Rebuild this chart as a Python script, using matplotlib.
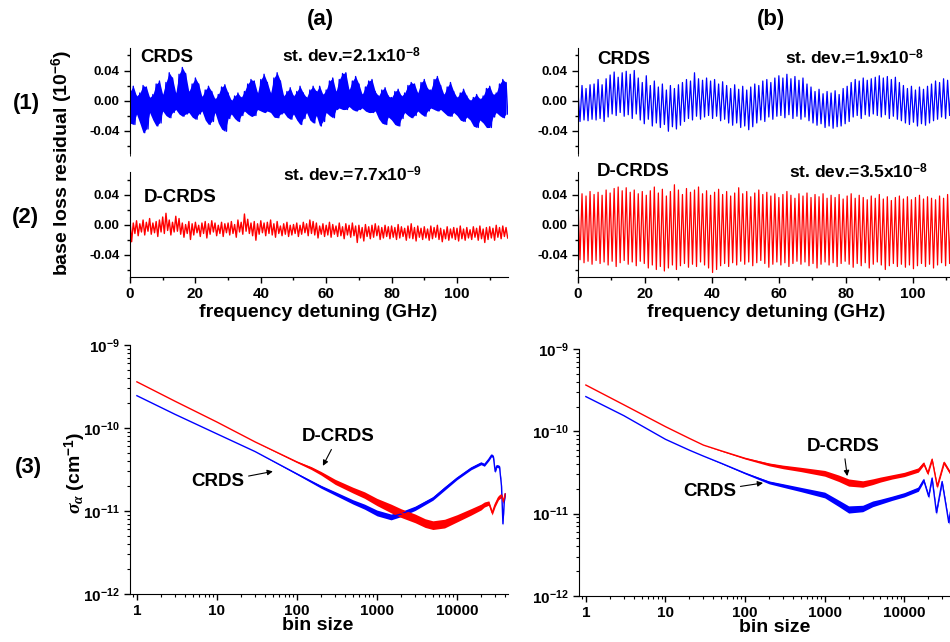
import numpy as np
import matplotlib
matplotlib.use("Agg")
import matplotlib.pyplot as plt
from matplotlib.ticker import MultipleLocator, LogLocator, FuncFormatter, NullFormatter

plt.rcParams["font.family"] = "Liberation Sans"
plt.rcParams["font.weight"] = "bold"
plt.rcParams["mathtext.fontset"] = "custom"
plt.rcParams["mathtext.rm"] = "Liberation Sans:bold"
plt.rcParams["mathtext.bf"] = "Liberation Sans:bold"
plt.rcParams["mathtext.it"] = "Liberation Serif:italic"

BLUE = "#0000ff"
RED = "#ff0000"

# ---- residual traces (10^-6) ----
# (a) CRDS: upper / lower excursions every 1 GHz
a1_hi = [0.012, 0.019, 0.006, 0.010, 0.020, 0.018, 0.004, 0.008, 0.022, 0.026,
         0.008, 0.024, 0.037, 0.030, 0.010, 0.035, 0.044, 0.036, 0.012, 0.022,
         0.030, 0.022, 0.005, 0.014, 0.019, 0.012, 0.002, 0.008, 0.018, 0.021,
         0.010, 0.000, 0.006, 0.010, 0.004, 0.012, 0.022, 0.028, 0.026, 0.010,
         0.028, 0.035, 0.024, 0.010, 0.030, 0.037, 0.026, 0.006, 0.012, 0.017,
         0.006, 0.012, 0.019, 0.010, 0.004, 0.014, 0.019, 0.012, 0.019, 0.008,
         0.014, 0.026, 0.030, 0.012, 0.028, 0.036, 0.037, 0.014, 0.026, 0.032,
         0.022, 0.008, 0.018, 0.026, 0.028, 0.012, 0.006, 0.014, 0.017, 0.006,
         0.004, 0.012, 0.015, 0.006, 0.010, 0.020, 0.024, 0.022, 0.010, 0.024,
         0.028, 0.016, 0.014, 0.028, 0.032, 0.020, 0.008, 0.018, 0.024, 0.012,
         0.004, 0.010, 0.015, 0.006, 0.000, 0.004, 0.008, 0.002, 0.006, 0.016,
         0.019, 0.008, 0.010, 0.022, 0.028, 0.024]
a1_lo = [-0.030, -0.032, -0.018, -0.030, -0.043, -0.038, -0.016, -0.026, -0.034, -0.030,
         -0.014, -0.020, -0.023, -0.016, -0.012, -0.018, -0.021, -0.018, -0.016, -0.022,
         -0.025, -0.018, -0.014, -0.026, -0.032, -0.028, -0.016, -0.030, -0.038, -0.041,
         -0.024, -0.018, -0.024, -0.028, -0.020, -0.014, -0.018, -0.021, -0.020, -0.012,
         -0.014, -0.016, -0.014, -0.016, -0.022, -0.023, -0.018, -0.016, -0.022, -0.025,
         -0.018, -0.026, -0.032, -0.024, -0.016, -0.026, -0.030, -0.020, -0.034, -0.028,
         -0.016, -0.020, -0.023, -0.012, -0.010, -0.012, -0.012, -0.008, -0.012, -0.014,
         -0.012, -0.010, -0.014, -0.016, -0.016, -0.014, -0.024, -0.030, -0.032, -0.022,
         -0.026, -0.032, -0.034, -0.024, -0.016, -0.020, -0.023, -0.020, -0.014, -0.018,
         -0.021, -0.014, -0.010, -0.012, -0.014, -0.012, -0.016, -0.020, -0.021, -0.016,
         -0.020, -0.026, -0.028, -0.022, -0.026, -0.034, -0.036, -0.026, -0.030, -0.036,
         -0.036, -0.022, -0.016, -0.020, -0.023, -0.018]

# (a) D-CRDS: upper / lower excursions every 1 GHz
a2_hi = [0.004, 0.002, 0.005, 0.001, 0.006, 0.003, 0.008, 0.002, 0.004, 0.006,
         0.010, 0.015, 0.006, 0.003, 0.011, 0.008, 0.002, 0.000, 0.004, 0.001,
         0.003, -0.001, 0.002, 0.004, 0.001, 0.005, 0.002, -0.001, 0.003, 0.001,
         0.002, 0.004, 0.000, 0.006, 0.003, 0.014, 0.007, 0.002, 0.004, 0.001,
         0.005, 0.002, 0.003, 0.006, 0.001, 0.004, -0.002, 0.001, 0.003, -0.001,
         0.000, 0.002, -0.001, 0.003, 0.001, 0.006, 0.004, 0.002, -0.002, 0.001,
         -0.001, 0.003, 0.000, -0.002, 0.002, -0.003, 0.001, -0.001, 0.002, -0.002,
         -0.001, -0.004, 0.000, -0.003, -0.001, 0.001, -0.002, -0.004, -0.001, -0.003,
         -0.002, -0.004, 0.000, -0.003, -0.005, -0.002, 0.001, -0.004, -0.002, -0.005,
         -0.003, -0.006, -0.002, -0.004, -0.001, -0.005, -0.007, -0.003, -0.006, -0.004,
         -0.005, -0.002, -0.006, -0.004, -0.007, -0.003, -0.005, -0.002, -0.006, -0.004,
         -0.003, -0.005, -0.001, -0.004, -0.002, -0.004]
a2_lo = [-0.023, -0.012, -0.015, -0.010, -0.014, -0.009, -0.013, -0.011, -0.016, -0.010,
         -0.012, -0.008, -0.014, -0.010, -0.009, -0.013, -0.017, -0.012, -0.020, -0.014,
         -0.011, -0.016, -0.012, -0.018, -0.013, -0.010, -0.015, -0.012, -0.016, -0.011,
         -0.014, -0.012, -0.017, -0.010, -0.013, -0.009, -0.012, -0.015, -0.021, -0.013,
         -0.011, -0.015, -0.012, -0.014, -0.017, -0.012, -0.015, -0.013, -0.016, -0.014,
         -0.012, -0.016, -0.013, -0.011, -0.015, -0.012, -0.014, -0.018, -0.013, -0.016,
         -0.014, -0.017, -0.013, -0.016, -0.015, -0.019, -0.014, -0.017, -0.015, -0.024,
         -0.018, -0.022, -0.016, -0.019, -0.017, -0.015, -0.020, -0.018, -0.016, -0.019,
         -0.017, -0.020, -0.018, -0.016, -0.021, -0.018, -0.019, -0.022, -0.017, -0.020,
         -0.018, -0.021, -0.019, -0.017, -0.020, -0.023, -0.019, -0.021, -0.018, -0.020,
         -0.022, -0.019, -0.021, -0.018, -0.020, -0.017, -0.021, -0.019, -0.024, -0.020,
         -0.018, -0.021, -0.017, -0.019, -0.016, -0.018]

# (b) CRDS: peaks / troughs of the ~1.2 GHz fringe
b1_hi = [0.012, 0.020, 0.016, 0.021, 0.022, 0.028, 0.021, 0.029,
         0.034, 0.038, 0.031, 0.037, 0.039, 0.035, 0.040,
         0.030, 0.024, 0.033, 0.020, 0.026,
         0.018, 0.022, 0.014, 0.020, 0.016, 0.021,
         0.024, 0.028, 0.026, 0.037, 0.029, 0.027,
         0.030, 0.026, 0.028, 0.022, 0.025, 0.020,
         0.016, 0.021, 0.015, 0.019, 0.014, 0.018,
         0.022, 0.020, 0.026, 0.028, 0.024, 0.030,
         0.033, 0.030, 0.035, 0.029, 0.032, 0.027, 0.030,
         0.022, 0.018, 0.012, 0.015, 0.009, 0.012,
         0.010, 0.013, 0.008, 0.016, 0.019,
         0.024, 0.028, 0.026, 0.030, 0.027, 0.029,
         0.031, 0.033, 0.030, 0.032, 0.028, 0.031,
         0.024, 0.020, 0.016, 0.019, 0.014, 0.018, 0.015,
         0.019, 0.022, 0.026, 0.024, 0.029, 0.027, 0.030, 0.028, 0.031]
b1_lo = [-0.028, -0.026, -0.027, -0.025, -0.026, -0.024, -0.028, -0.022,
         -0.018, -0.020, -0.016, -0.021, -0.019, -0.024, -0.018,
         -0.026, -0.031, -0.025, -0.034, -0.030,
         -0.036, -0.032, -0.041, -0.035, -0.038, -0.033,
         -0.028, -0.024, -0.026, -0.021, -0.025, -0.022,
         -0.020, -0.024, -0.021, -0.027, -0.025, -0.030,
         -0.033, -0.030, -0.036, -0.034, -0.039, -0.035,
         -0.030, -0.026, -0.028, -0.022, -0.025, -0.021,
         -0.020, -0.023, -0.019, -0.024, -0.021, -0.025, -0.022,
         -0.027, -0.030, -0.033, -0.031, -0.036, -0.034,
         -0.037, -0.035, -0.034, -0.031, -0.028,
         -0.022, -0.020, -0.024, -0.019, -0.021, -0.018,
         -0.020, -0.022, -0.019, -0.024, -0.021, -0.025,
         -0.027, -0.030, -0.032, -0.029, -0.034, -0.031, -0.033,
         -0.030, -0.027, -0.025, -0.022, -0.024, -0.020, -0.022, -0.019, -0.021]

# (b) D-CRDS: peaks / troughs of the ~1.2 GHz fringe
b2_hi = [0.030, 0.041, 0.038, 0.044, 0.040, 0.043, 0.039, 0.046, 0.042, 0.048,
         0.050, 0.045, 0.049, 0.043, 0.046, 0.041, 0.044, 0.039, 0.045, 0.050,
         0.042, 0.047, 0.038, 0.044, 0.053, 0.046, 0.040, 0.048, 0.043, 0.046,
         0.050, 0.041, 0.045, 0.039, 0.043, 0.047, 0.040, 0.044, 0.038, 0.042,
         0.049, 0.041, 0.044, 0.037, 0.042, 0.046, 0.040, 0.043, 0.038, 0.041,
         0.036, 0.040, 0.044, 0.039, 0.035, 0.041, 0.038, 0.042, 0.036, 0.040,
         0.037, 0.041, 0.035, 0.039, 0.036, 0.040, 0.034, 0.038, 0.041, 0.035,
         0.039, 0.036, 0.033, 0.038, 0.035, 0.040, 0.034, 0.037, 0.032, 0.036,
         0.038, 0.034, 0.037, 0.033, 0.036, 0.039, 0.034, 0.037, 0.035, 0.033,
         0.038, 0.035, 0.040, 0.036, 0.039, 0.037]
b2_lo = [-0.047, -0.051, -0.049, -0.053, -0.048, -0.052, -0.050, -0.054, -0.049, -0.056,
         -0.051, -0.048, -0.053, -0.050, -0.055, -0.049, -0.052, -0.058, -0.054, -0.060,
         -0.056, -0.062, -0.058, -0.054, -0.060, -0.055, -0.052, -0.057, -0.053, -0.056,
         -0.050, -0.054, -0.058, -0.064, -0.060, -0.055, -0.052, -0.056, -0.051, -0.054,
         -0.049, -0.053, -0.050, -0.055, -0.051, -0.048, -0.052, -0.057, -0.053, -0.050,
         -0.054, -0.051, -0.056, -0.052, -0.049, -0.053, -0.050, -0.055, -0.052, -0.058,
         -0.053, -0.050, -0.054, -0.051, -0.056, -0.052, -0.049, -0.053, -0.057, -0.052,
         -0.055, -0.051, -0.058, -0.053, -0.050, -0.054, -0.060, -0.055, -0.052, -0.056,
         -0.053, -0.057, -0.054, -0.059, -0.055, -0.052, -0.056, -0.053, -0.058, -0.054,
         -0.051, -0.055, -0.052, -0.056, -0.053, -0.050]

# ---- Allan deviation (cm^-1) vs bin size; band = relative noise half-width ----
a3_red_bins = [1, 3, 10, 30, 100, 150, 200, 300, 500, 700,
               1000, 1500, 2000, 3000, 4000, 5000, 7000, 10000, 15000, 20000,
               22000, 25000, 27500, 30000, 33000, 36000, 38000, 40000]
a3_red = [3.6e-10, 2.1e-10, 1.18e-10, 6.8e-11, 3.9e-11, 3.3e-11, 2.85e-11, 2.25e-11, 1.79e-11, 1.56e-11,
          1.29e-11, 1.08e-11, 9.5e-12, 8.2e-12, 7.2e-12, 6.8e-12, 7.1e-12, 8.2e-12, 9.8e-12, 1.12e-11,
          1.2e-11, 1.25e-11, 9.5e-12, 1.2e-11, 1.45e-11, 1.55e-11, 1.3e-11, 1.6e-11]
a3_red_band = [0, 0, 0, 0, 0.02, 0.04, 0.05, 0.07, 0.08, 0.09,
               0.10, 0.12, 0.12, 0.12, 0.12, 0.12, 0.12, 0.10, 0.09, 0.08,
               0.07, 0.06, 0.06, 0.06, 0.06, 0.06, 0.06, 0.06]

a3_blue_bins = [1, 3, 10, 30, 100, 200, 300, 500, 700, 1000,
                1500, 2000, 3000, 5000, 7000, 10000, 15000, 20000, 22000, 25000,
                27000, 28500, 30000, 31500, 34000, 36000, 37500, 39000, 40000]
a3_blue = [2.45e-10, 1.46e-10, 8.5e-11, 5.2e-11, 2.8e-11, 1.96e-11, 1.63e-11, 1.29e-11, 1.13e-11, 9.5e-12,
           8.5e-12, 9.2e-12, 1.08e-11, 1.42e-11, 1.87e-11, 2.48e-11, 3.27e-11, 3.76e-11, 3.6e-11, 4.2e-11,
           4.7e-11, 4.5e-11, 3.0e-11, 3.5e-11, 3.4e-11, 2.0e-11, 7e-12, 1.3e-11, 1.6e-11]
a3_blue_band = [0, 0, 0, 0, 0.02, 0.04, 0.05, 0.06, 0.07, 0.08,
                0.08, 0.07, 0.06, 0.05, 0.05, 0.04, 0.04, 0.04, 0.04, 0.04,
                0.04, 0.04, 0.04, 0.04, 0.04, 0.04, 0.04, 0.04, 0.04]

b3_red_bins = [1, 3, 10, 20, 30, 50, 100, 200, 300, 500,
               1000, 1500, 2000, 3000, 4000, 5000, 7000, 10000, 15000, 17500,
               19700, 22300, 25900, 31500, 37900, 40000]
b3_red = [3.65e-10, 2.1e-10, 1.14e-10, 8.2e-11, 6.8e-11, 5.8e-11, 4.7e-11, 3.97e-11, 3.7e-11, 3.45e-11,
          3.1e-11, 2.7e-11, 2.4e-11, 2.3e-11, 2.45e-11, 2.6e-11, 2.8e-11, 3.0e-11, 3.4e-11, 4.07e-11,
          3.1e-11, 4.57e-11, 2.14e-11, 4.17e-11, 3.1e-11, 3.2e-11]
b3_red_band = [0, 0, 0, 0, 0, 0.01, 0.02, 0.04, 0.05, 0.06,
               0.08, 0.09, 0.10, 0.09, 0.08, 0.07, 0.06, 0.06, 0.06, 0.05,
               0.05, 0.05, 0.05, 0.05, 0.05, 0.05]

b3_blue_bins = [1, 3, 10, 20, 30, 50, 100, 200, 300, 500,
                1000, 1500, 2000, 3000, 4000, 5000, 7000, 10000, 15000, 17500,
                20200, 22300, 25300, 29800, 34400, 36100, 37900, 40000]
b3_blue = [2.64e-10, 1.55e-10, 8.0e-11, 5.9e-11, 5.0e-11, 4.1e-11, 3.1e-11, 2.4e-11, 2.2e-11, 1.97e-11,
           1.69e-11, 1.34e-11, 1.13e-11, 1.16e-11, 1.32e-11, 1.4e-11, 1.54e-11, 1.7e-11, 1.99e-11, 2.56e-11,
           1.62e-11, 2.7e-11, 1.03e-11, 2.45e-11, 1.05e-11, 7.8e-12, 1.05e-11, 1.1e-11]
b3_blue_band = [0, 0, 0, 0, 0, 0.01, 0.02, 0.04, 0.05, 0.06,
                0.08, 0.09, 0.10, 0.09, 0.08, 0.07, 0.06, 0.06, 0.06, 0.05,
                0.05, 0.05, 0.05, 0.05, 0.05, 0.05, 0.05, 0.05]

W, H = 950, 642
fig = plt.figure(figsize=(W / 100, H / 100), dpi=100)


def px_axes(x0, y0, x1, y1):
    return fig.add_axes([x0 / W, 1 - y1 / H, (x1 - x0) / W, (y1 - y0) / H])


def ftext(x, y, s, **kw):
    fig.text(x / W, 1 - y / H, s, fontweight="bold", **kw)


def zigzag(hi, lo, step):
    hi, lo = np.asarray(hi), np.asarray(lo)
    x = np.empty(hi.size * 2)
    y = np.empty(hi.size * 2)
    x[0::2] = np.arange(hi.size) * step
    x[1::2] = np.arange(hi.size) * step + step / 2
    y[0::2] = hi
    y[1::2] = lo
    return x, y


def style_residual(ax, show_x):
    ax.set_xlim(0, 115.6)
    ax.set_ylim(-0.07, 0.07)
    ax.set_yticks([-0.04, 0.0, 0.04], ["-0.04", "0.00", "0.04"])
    ax.yaxis.set_minor_locator(MultipleLocator(0.02))
    for s in ("top", "right"):
        ax.spines[s].set_visible(False)
    ax.tick_params(axis="y", which="major", direction="out", length=4, width=1, labelsize=9.5)
    ax.tick_params(axis="y", which="minor", direction="out", length=2.5, width=1)
    if show_x:
        ax.set_xticks([0, 20, 40, 60, 80, 100])
        ax.xaxis.set_minor_locator(MultipleLocator(10))
        ax.tick_params(axis="x", which="major", direction="out", length=4, width=1, labelsize=11)
        ax.tick_params(axis="x", which="minor", direction="out", length=2.5, width=1)
    else:
        ax.spines["bottom"].set_visible(False)
        ax.set_xticks([])
        ax.xaxis.set_minor_locator(MultipleLocator(1000))


def style_allan(ax, xmax):
    ax.set_xscale("log")
    ax.set_yscale("log")
    ax.set_xlim(0.82, xmax)
    ax.set_ylim(1e-12, 1e-9)
    for s in ("top", "right"):
        ax.spines[s].set_visible(False)
    ax.xaxis.set_major_locator(LogLocator(base=10, numticks=10))
    ax.xaxis.set_minor_locator(LogLocator(base=10, subs=range(2, 10), numticks=20))
    ax.xaxis.set_major_formatter(FuncFormatter(lambda v, p: f"{v:g}"))
    ax.xaxis.set_minor_formatter(NullFormatter())
    ax.yaxis.set_major_locator(LogLocator(base=10, numticks=10))
    ax.yaxis.set_minor_locator(LogLocator(base=10, subs=range(2, 10), numticks=20))
    ax.yaxis.set_major_formatter(FuncFormatter(lambda v, p: r"$\mathbf{10^{%d}}$" % round(np.log10(v))))
    ax.yaxis.set_minor_formatter(NullFormatter())
    ax.tick_params(which="major", direction="out", length=4, width=1, labelsize=11)
    ax.tick_params(which="minor", direction="out", length=2.5, width=0.8)


def allan(ax, bins, vals, band, color):
    bins, vals, band = np.asarray(bins, float), np.asarray(vals), np.asarray(band)
    ax.fill_between(bins, vals * (1 - band), vals * (1 + band), color=color, lw=0)
    ax.plot(bins, vals, color=color, lw=1.0)


# row 1 / row 2 residuals
ax_a1 = px_axes(130, 48, 508, 153)
ax_a2 = px_axes(130, 172, 508, 277)
ax_b1 = px_axes(578, 48, 965, 153)
ax_b2 = px_axes(578, 172, 965, 277)

# the (a) CRDS trace is so dense it reads as a solid band
ax_a1.fill_between(np.arange(len(a1_hi)), a1_lo, a1_hi, color=BLUE, lw=0)
ax_a1.plot(*zigzag(a1_hi, a1_lo, 1.0), color=BLUE, lw=1.0)
ax_a2.plot(*zigzag(a2_hi, a2_lo, 1.0), color=RED, lw=1.0)
ax_b1.plot(*zigzag(b1_hi, b1_lo, 1.2), color=BLUE, lw=0.9)
ax_b2.plot(*zigzag(b2_hi, b2_lo, 1.2), color=RED, lw=0.9)

style_residual(ax_a1, False)
style_residual(ax_b1, False)
style_residual(ax_a2, True)
style_residual(ax_b2, True)

# row 3 Allan deviation
ax_a3 = px_axes(130, 345, 508, 594)
ax_b3 = px_axes(579, 349, 962, 596)
allan(ax_a3, a3_blue_bins, a3_blue, a3_blue_band, BLUE)
allan(ax_a3, a3_red_bins, a3_red, a3_red_band, RED)
allan(ax_b3, b3_blue_bins, b3_blue, b3_blue_band, BLUE)
allan(ax_b3, b3_red_bins, b3_red, b3_red_band, RED)
style_allan(ax_a3, 43400)
style_allan(ax_b3, 53000)

arrow = dict(arrowstyle="-|>", color="k", lw=0.8, mutation_scale=8, shrinkA=1, shrinkB=0)
ax_a3.annotate("D-CRDS", xy=(211, 3.5e-11), xytext=(325, 7.8e-11), ha="center", va="center",
               fontsize=13.5, fontweight="bold", arrowprops=arrow)
ax_a3.annotate("CRDS", xy=(50, 3.0e-11), xytext=(10.3, 2.24e-11), ha="center", va="center",
               fontsize=13.5, fontweight="bold", arrowprops=arrow)
ax_b3.annotate("D-CRDS", xy=(1920, 2.86e-11), xytext=(1710, 6.6e-11), ha="center", va="center",
               fontsize=13.5, fontweight="bold", arrowprops=arrow)
ax_b3.annotate("CRDS", xy=(168, 2.36e-11), xytext=(36, 1.88e-11), ha="center", va="center",
               fontsize=13.5, fontweight="bold", arrowprops=arrow)

# labels and captions
ftext(320, 19, "(a)", fontsize=16, ha="center", va="center")
ftext(771, 19, "(b)", fontsize=16, ha="center", va="center")
ftext(26, 103, "(1)", fontsize=16, ha="center", va="center")
ftext(25, 217, "(2)", fontsize=16, ha="center", va="center")
ftext(28, 467, "(3)", fontsize=16, ha="center", va="center")

ftext(140, 58, "CRDS", fontsize=13.5, ha="left", va="center")
ftext(282, 56, r"st. dev.=2.1x10$^{\mathbf{-8}}$", fontsize=12.5, ha="left", va="center")
ftext(597, 60, "CRDS", fontsize=13.5, ha="left", va="center")
ftext(785, 58, r"st. dev.=1.9x10$^{\mathbf{-8}}$", fontsize=12.5, ha="left", va="center")
ftext(144, 197, "D-CRDS", fontsize=13.5, ha="left", va="center")
ftext(283, 175, r"st. dev.=7.7x10$^{\mathbf{-9}}$", fontsize=12.5, ha="left", va="center")
ftext(597, 172, "D-CRDS", fontsize=13.5, ha="left", va="center")
ftext(789, 172, r"st. dev.=3.5x10$^{\mathbf{-8}}$", fontsize=12.5, ha="left", va="center")

ftext(62, 163, r"base loss residual (10$^{\mathbf{-6}}$)", fontsize=14, rotation=90,
      ha="center", va="center")
ftext(75, 473, r"$\sigma_\alpha$ (cm$^{\mathbf{-1}}$)", fontsize=14, rotation=90,
      ha="center", va="center")
ftext(318, 312, "frequency detuning (GHz)", fontsize=14, ha="center", va="center")
ftext(766, 312, "frequency detuning (GHz)", fontsize=14, ha="center", va="center")
ftext(318, 626, "bin size", fontsize=14, ha="center", va="center")
ftext(775, 627, "bin size", fontsize=14, ha="center", va="center")

fig.savefig("out.png", dpi=100, facecolor="white")
